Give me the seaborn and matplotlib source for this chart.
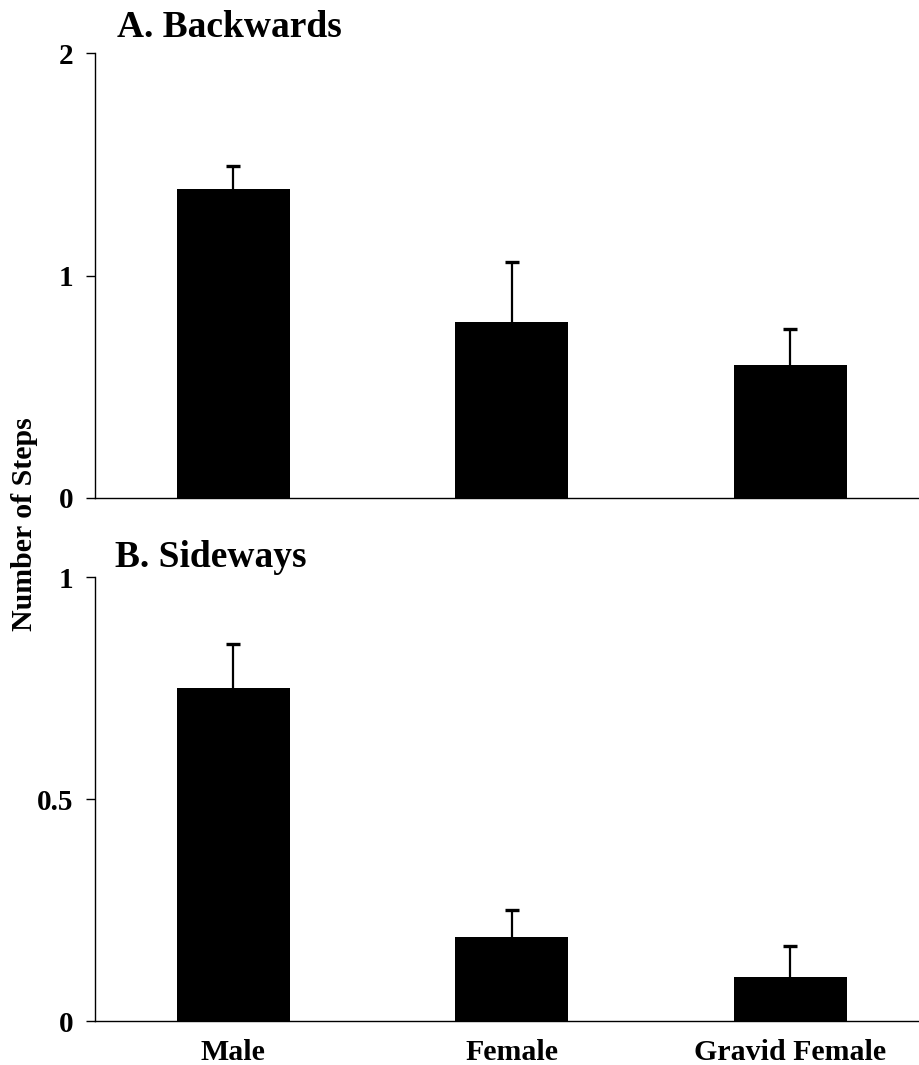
import numpy as np
import pandas as pd
import matplotlib
matplotlib.use("Agg")
import matplotlib.pyplot as plt
import seaborn as sns

# ---- data ----
categories = ["Male", "Female", "Gravid Female"]
backwards_mean = [1.39, 0.79, 0.60]
backwards_err = [0.10, 0.27, 0.16]
sideways_mean = [0.75, 0.19, 0.10]
sideways_err = [0.10, 0.06, 0.07]
top_yticks = [0, 1, 2]
top_yticklabels = ["0", "1", "2"]
bottom_yticks = [0, 0.5, 1]
bottom_yticklabels = ["0", "0.5", "1"]
title_a = "A. Backwards"
title_b = "B. Sideways"
ylabel = "Number of Steps"

sns.set_style("ticks")
plt.rcParams["font.family"] = ["Liberation Serif", "DejaVu Serif"]
plt.rcParams["font.weight"] = "bold"
for k in ["text.color", "axes.labelcolor", "xtick.color", "ytick.color", "axes.edgecolor"]:
    plt.rcParams[k] = "black"

W, H = 920, 1065
fig = plt.figure(figsize=(W / 100, H / 100), dpi=100)

def px_axes(left, top, right, bottom):
    return fig.add_axes([left / W, 1 - bottom / H, (right - left) / W, (bottom - top) / H])

ax1 = px_axes(95, 53, 920, 498)
ax2 = px_axes(95, 577, 920, 1021)

def draw(ax, means, errs, ylim, yticks, yticklabels, show_x):
    df = pd.DataFrame({"cat": categories, "val": means})
    sns.barplot(data=df, x="cat", y="val", color="black", saturation=1,
                width=0.406, errorbar=None, ax=ax, linewidth=0, edgecolor="black")
    xs = [p.get_x() + p.get_width() / 2 for p in ax.patches]
    eb = ax.errorbar(xs, means, yerr=[np.zeros(len(errs)), errs], fmt="none",
                     ecolor="black", elinewidth=1.6, capsize=5, capthick=2.4, zorder=5)
    # keep only the upper caps
    eb[1][0].remove()
    ax.set_xlim(-0.497, 2.465)
    ax.set_ylim(*ylim)
    ax.set_yticks(yticks)
    ax.set_yticklabels(yticklabels, fontsize=21, fontweight="bold")
    ax.set_xlabel("")
    ax.set_ylabel("")
    sns.despine(ax=ax)
    for s in ["left", "bottom"]:
        ax.spines[s].set_linewidth(1.0)
        ax.spines[s].set_color("black")
    ax.tick_params(axis="y", length=6.5, width=1.0, pad=9, colors="black")
    if show_x:
        ax.tick_params(axis="x", length=0, pad=13)
        ax.set_xticks(range(len(categories)))
        ax.set_xticklabels(categories, fontsize=21.5, fontweight="bold")
    else:
        ax.tick_params(axis="x", length=0, labelbottom=False)

draw(ax1, backwards_mean, backwards_err, (0, 2), top_yticks, top_yticklabels, False)
draw(ax2, sideways_mean, sideways_err, (0, 1), bottom_yticks, bottom_yticklabels, True)

fig.text(117 / W, 1 - 37 / H, title_a, fontsize=27, fontweight="bold", ha="left", va="baseline")
fig.text(115 / W, 1 - 567 / H, title_b, fontsize=27, fontweight="bold", ha="left", va="baseline")
fig.text(25 / W, 1 - 524 / H, ylabel, fontsize=21.5, fontweight="bold", rotation=90,
         ha="center", va="center")

fig.savefig("out.png", dpi=100, facecolor="white")
